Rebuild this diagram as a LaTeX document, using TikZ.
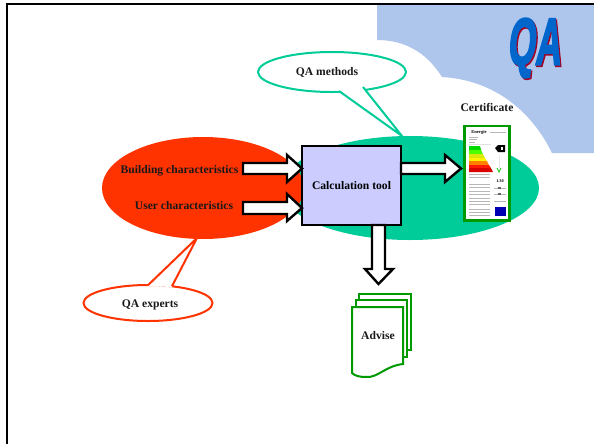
\documentclass[tikz,border=0pt]{standalone}
\usepackage{fontspec}
\setmainfont{Liberation Serif}
\newfontfamily\qafont[FakeBold=3.5]{Liberation Sans Bold}
\definecolor{skyb}{HTML}{AEC6EC}
\definecolor{teal1}{HTML}{00CC99}
\definecolor{red1}{HTML}{FF3300}
\definecolor{box1}{HTML}{CCCCFF}
\definecolor{grn1}{HTML}{009900}
\definecolor{qab}{HTML}{0066CC}
\definecolor{qar}{HTML}{A50021}
\tikzset{
  x=0.75pt,y=-0.75pt,
  lbl/.style={font=\bfseries\fontsize{8.7}{10}\selectfont,text=black!90,inner sep=0pt},
  blockarrow/.style={draw=black,fill=white,line width=1.8pt,miter limit=10},
  callout/.style={draw,fill=white,line width=1.5pt,line join=miter},
  page/.style={draw=grn1,fill=white,line width=1.5pt},
  band/.style={inner sep=0pt,draw=none},
  thinl/.style={draw=black!28,line width=0.5pt},
}
\begin{document}
\begin{tikzpicture}
\useasboundingbox (0,0) rectangle (594,444);
\fill[white] (0,0) rectangle (594,444);
% sky
\fill[skyb] (377,5) -- (594,5) -- (594,153) -- (552,153)
  .. controls (532,112) and (495,80) .. (442,77)
  .. controls (425,50) and (402,40) .. (377,40) -- cycle;
% frame
\draw[line width=1.7pt] (7,444) -- (7,4) -- (594,4);
% QA logo
\begin{scope}[shift={(535.5,48)},xslant=0.1,xscale=0.86,yscale=1.6]
\node[transform shape,inner sep=0pt,text=qar,font=\qafont\fontsize{31}{31}\selectfont] at (1.6,0.9) {QA};
\node[transform shape,inner sep=0pt,text=qab,font=\qafont\fontsize{31}{31}\selectfont] at (0,0) {QA};
\end{scope}
% ellipses
\fill[teal1] (410,188) ellipse [x radius=129,y radius=52];
\fill[red1] (203,188) ellipse [x radius=101,y radius=51];
% callouts
\draw[callout,draw=teal1] (332,72) ellipse [x radius=74,y radius=20];
\fill[white] (339,90) -- (402,136) -- (363,86) -- cycle;
\draw[teal1,line width=1.5pt] (339,91) -- (402,136) -- (363,87);
\node[lbl] (methods) at (327,72) {QA methods};
\draw[callout,draw=red1] (148,303) ellipse [x radius=64.5,y radius=18];
\fill[white] (148,286) -- (197,238) -- (172,287) -- cycle;
\draw[red1,line width=1.5pt] (148,285.2) -- (197,238) -- (172,286.2);
\node[lbl] (experts) at (150,305) {QA experts};
% box
\node[draw=black,fill=box1,line width=1.8pt,minimum width=74.25pt,minimum height=59.25pt,inner sep=0pt,font=\bfseries\fontsize{8.7}{10}\selectfont] (calc) at (351.5,185.5) {Calculation tool};
% arrows
\draw[blockarrow] (243,163) -- (287,163) -- (287,155) -- (302,168.5) -- (287,182) -- (287,174) -- (243,174) -- cycle;
\draw[blockarrow] (243,202) -- (287,202) -- (287,194) -- (302,208) -- (287,221) -- (287,214) -- (243,214) -- cycle;
\draw[blockarrow] (401,163) -- (445,163) -- (445,155) -- (461,168.5) -- (445,182) -- (445,174) -- (401,174) -- cycle;
\draw[blockarrow] (372,225) -- (372,269) -- (365,269) -- (378.5,284) -- (393,269) -- (385,269) -- (385,225) -- cycle;
\node[lbl] at (179.5,171) {Building characteristics};
\node[lbl] at (184,206) {User characteristics};
\node[lbl] (cert) at (487,107) {Certificate};
% advise
\draw[page] (359,294) -- (411,294) -- (411,350) -- (359,350) -- cycle;
\draw[page] (355.5,300) -- (407,300) -- (407,357) -- (355.5,357) -- cycle;
\draw[page] (352,307) -- (403,307) -- (403,364) .. controls (385,366) and (378,378) .. (366,377) .. controls (360,377) and (355,376) .. (352,373) -- cycle;
\node[lbl] (advise) at (378,336) {Advise};
% certificate
\draw[grn1,fill=white,line width=1.6pt] (464.5,126) rectangle (509.5,220.5);
\node[inner sep=0pt,font=\bfseries\fontsize{3.4}{3}\selectfont] at (479,132) {Energie};
\draw[thinl] (490,132.5) -- (506,132.5);
\draw[thinl] (469,137) -- (478,137) (469,139) -- (477,139) (469,142) -- (475,142);
\fill[black!12] (469,144) rectangle (491,145);
\fill[band,fill=green!85!black] (469,146) -- (480,146) -- (481,150) -- (469,150) -- cycle;
\fill[band,fill=green!70!yellow] (469,150) -- (481,150) -- (483,154) -- (469,154) -- cycle;
\fill[band,fill=yellow!85!green] (469,154) -- (483,154) -- (485,158) -- (469,158) -- cycle;
\fill[band,fill=yellow] (469,158) -- (485,158) -- (487,161) -- (469,161) -- cycle;
\fill[band,fill=orange] (469,161) -- (487,161) -- (489,165) -- (469,165) -- cycle;
\fill[band,fill=red!80!orange] (469,165) -- (489,165) -- (491,168) -- (469,168) -- cycle;
\fill[band,fill=red!85!black] (469,168) -- (491,168) -- (493,172) -- (469,172) -- cycle;
\fill[black] (495,148) -- (498,145) -- (505,145) -- (505,152) -- (498,152) -- cycle;
\fill[white] (501,147) rectangle (503,150);
\draw[green!60!gray,line width=0.7pt] (497,168) -- (499,172) -- (501,168);
\draw[black!10] (499,155) -- (499,168);
\foreach \yy in {174,177,184,187,191,194,198,201,204,209,212,215}
  \draw[thinl] (469,\yy) -- (490,\yy);
\node[inner sep=0pt,font=\bfseries\fontsize{3.2}{3}\selectfont] at (500,181) {1.30};
\draw[thinl] (494,188) -- (506,188) (494,194) -- (506,194) (494,201) -- (506,201);
\fill[black!60] (498,187) rectangle (501,189);
\fill[black!60] (498,193) rectangle (501,195);
\fill[blue!70!black] (495,207) rectangle (506,216);
\end{tikzpicture}
\end{document}
